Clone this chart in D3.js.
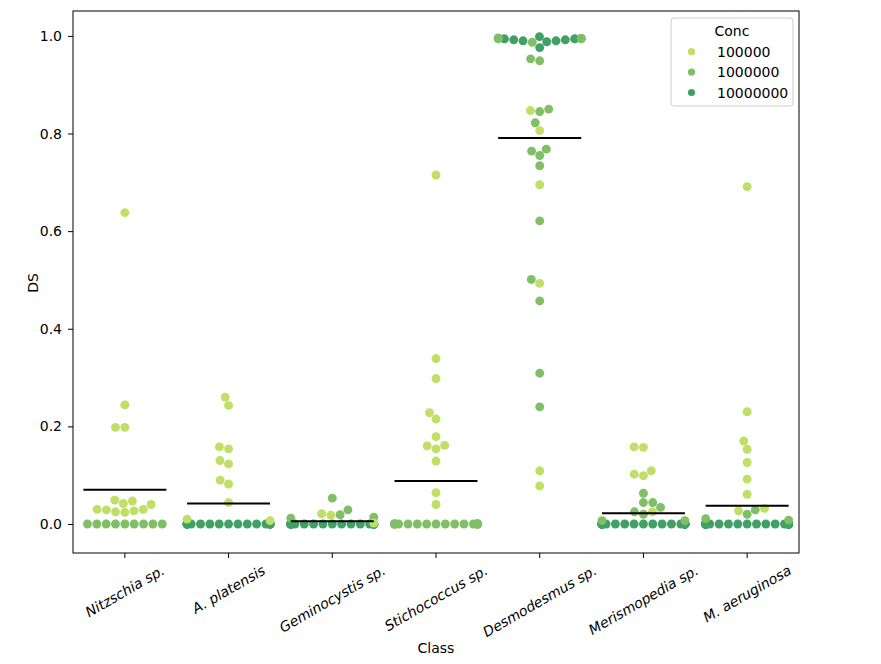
<!DOCTYPE html>
<html><head><meta charset="utf-8">
<script src="https://cdn.jsdelivr.net/npm/d3@7"></script>
<style>body{margin:0;background:#fff} text{font-family:"DejaVu Sans",sans-serif}</style>
</head><body><svg id="chart" width="881" height="664"></svg>
<script>
const categories = ["Nitzschia sp.", "A. platensis", "Geminocystis sp.", "Stichococcus sp.", "Desmodesmus sp.", "Merismopedia sp.", "M. aeruginosa"];
const concLevels = ["100000", "1000000", "10000000"];
const concColors = ["#bfdf66", "#80bf66", "#40a066"];

// DS values per category, for Conc = 100000
const ds_100000 = [
  [0.638, 0.244, 0.198, 0.198, 0.049, 0.047, 0.042, 0.040, 0.030, 0.030, 0.029, 0.027, 0.025, 0.024],
  [0.260, 0.243, 0.158, 0.154, 0.130, 0.123, 0.090, 0.082, 0.044, 0.007, 0.010],
  [0.021, 0.018, 0.002],
  [0.715, 0.339, 0.298, 0.228, 0.215, 0.179, 0.161, 0.160, 0.154, 0.129, 0.064, 0.040],
  [0.847, 0.806, 0.695, 0.493, 0.109, 0.078],
  [0.158, 0.157, 0.109, 0.102, 0.099, 0.025],
  [0.691, 0.230, 0.170, 0.153, 0.126, 0.092, 0.061, 0.032, 0.027]
];
// Conc = 1000000
const ds_1000000 = [
  [0, 0, 0, 0, 0, 0, 0, 0, 0],
  [],
  [0.053, 0.019, 0.029, 0.012, 0.014],
  [0, 0, 0, 0, 0, 0, 0, 0, 0, 0, 0, 0, 0, 0, 0, 0, 0, 0],
  [0.994, 0.987, 0.994, 0.953, 0.949, 0.850, 0.845, 0.822, 0.768, 0.764, 0.755, 0.734, 0.621, 0.501, 0.457, 0.309, 0.240, 0.995, 0.996],
  [0.063, 0.044, 0.044, 0.034, 0.020, 0.025, 0.007, 0.007],
  [0.029, 0.020, 0.008, 0.011]
];
// Conc = 10000000
const ds_10000000 = [
  [],
  [0, 0, 0, 0, 0, 0, 0, 0, 0, 0, 0, 0, 0, 0, 0, 0, 0, 0, 0, 0],
  [0, 0, 0, 0, 0, 0, 0, 0, 0, 0, 0, 0, 0, 0, 0, 0, 0, 0, 0, 0, 0, 0, 0, 0],
  [],
  [0.9986, 0.976, 0.988, 0.990, 0.992, 0.994, 0.990, 0.992, 0.994, 0.995, 0.995],
  [0, 0, 0, 0, 0, 0, 0, 0, 0, 0, 0, 0, 0, 0, 0, 0, 0, 0, 0, 0, 0, 0, 0, 0, 0, 0, 0],
  [0, 0, 0, 0, 0, 0, 0, 0, 0, 0, 0, 0, 0, 0, 0, 0, 0, 0, 0, 0, 0, 0, 0, 0, 0, 0, 0, 0, 0, 0, 0]
];
// mean DS per category (black lines)
const meanDS = [0.070, 0.042, 0.0055, 0.088, 0.791, 0.022, 0.0375];
const yTickValues = [0.0, 0.2, 0.4, 0.6, 0.8, 1.0];

const FS = "14px";
const svg = d3.select("#chart");
const plot = {left: 73, right: 799, top: 11, bottom: 553};
const x = d3.scaleBand().domain(categories).range([plot.left, plot.right]).padding(0);
const y = d3.scaleLinear().domain([-0.0594, 1.051]).range([plot.bottom, plot.top]);
const color = d3.scaleOrdinal().domain(concLevels).range(concColors);
const R = 4.45;
const halfW = x.bandwidth() * 0.4;

function beeswarm(points, cx) {
  const pts = points.map((p, i) => Object.assign({}, p, {i: i, py: y(p.v)}));
  const sorted = pts.slice().sort((a, b) => (b.py - a.py) || (a.i - b.i));
  const placed = [];
  sorted.forEach((p, k) => {
    if (k === 0) { p.px = cx; placed.push(p); return; }
    const nb = [];
    for (let j = placed.length - 1; j >= 0; j--) {
      const q = placed[j];
      if ((q.py - p.py) < 2 * R) nb.push(q); else break;
    }
    if (!nb.length) { p.px = cx; placed.push(p); return; }
    const cands = [cx];
    let leftFirst = true;
    nb.forEach(q => {
      const dy = q.py - p.py;
      const dx = Math.sqrt(Math.max(4 * R * R - dy * dy, 0)) * 1.05;
      if (leftFirst) cands.push(q.px - dx, q.px + dx); else cands.push(q.px + dx, q.px - dx);
      leftFirst = !leftFirst;
    });
    const order = cands.map((c, i) => ({c, i}))
      .sort((a, b) => (Math.abs(a.c - cx) - Math.abs(b.c - cx)) || (a.i - b.i));
    let chosen = order[order.length - 1].c;
    for (const o of order) {
      if (nb.every(q => (q.px - o.c) ** 2 + (q.py - p.py) ** 2 >= 4 * R * R - 1e-6)) { chosen = o.c; break; }
    }
    p.px = chosen;
    placed.push(p);
  });
  pts.forEach(p => { p.px = Math.max(cx - halfW, Math.min(cx + halfW, p.px)); });
  return pts;
}

const g = svg.append("g");

// points
categories.forEach((cat, ci) => {
  const pts = [];
  ds_10000000[ci].forEach(v => pts.push({v, conc: concLevels[2]}));
  ds_1000000[ci].forEach(v => pts.push({v, conc: concLevels[1]}));
  ds_100000[ci].forEach(v => pts.push({v, conc: concLevels[0]}));
  const cx = x(cat) + x.bandwidth() / 2;
  const placed = beeswarm(pts, cx);
  g.append("g").selectAll("circle").data(placed).join("circle")
    .attr("cx", d => d.px).attr("cy", d => d.py).attr("r", R)
    .attr("fill", d => color(d.conc));
});

// mean lines
g.append("g").selectAll("line").data(categories).join("line")
  .attr("x1", d => x(d) + x.bandwidth() / 2 - halfW)
  .attr("x2", d => x(d) + x.bandwidth() / 2 + halfW)
  .attr("y1", (d, i) => y(meanDS[i])).attr("y2", (d, i) => y(meanDS[i]))
  .attr("stroke", "#000").attr("stroke-width", 2);

// axes
const yAxis = d3.axisLeft(y).tickValues(yTickValues).tickFormat(d3.format(".1f")).tickSize(5).tickPadding(6);
const ya = svg.append("g").attr("transform", `translate(${plot.left},0)`).call(yAxis);
ya.select(".domain").remove();
ya.selectAll("text").attr("font-size", FS).attr("fill", "#000").style("font-family", "DejaVu Sans");
ya.selectAll("line").attr("stroke", "#000");

const xAxis = d3.axisBottom(x).tickSize(5).tickPadding(4);
const xa = svg.append("g").attr("transform", `translate(0,${plot.bottom})`).call(xAxis);
xa.select(".domain").remove();
xa.selectAll("line").attr("stroke", "#000");
xa.selectAll("text").each(function() {
  const t = d3.select(this);
  t.attr("font-size", FS).attr("fill", "#000").style("font-family", "DejaVu Sans").style("font-style", "italic")
   .attr("dy", null).attr("y", 0).attr("dominant-baseline", "central").attr("text-anchor", "middle");
  const w = this.getComputedTextLength();
  const h = 16;
  const a = Math.PI / 6;
  const bh = w * Math.sin(a) + h * Math.cos(a);
  const cy = 9 + bh / 2;
  t.attr("transform", `translate(0,${cy}) rotate(-30)`);
});

// frame
svg.append("rect").attr("x", plot.left).attr("y", plot.top)
  .attr("width", plot.right - plot.left).attr("height", plot.bottom - plot.top)
  .attr("fill", "none").attr("stroke", "#000").attr("stroke-width", 1);

// axis labels
svg.append("text").attr("x", (plot.left + plot.right) / 2).attr("y", 648)
  .attr("text-anchor", "middle").attr("dominant-baseline", "central").attr("font-size", FS).text("Class");
svg.append("text").attr("transform", "translate(33,283) rotate(-90)")
  .attr("text-anchor", "middle").attr("dominant-baseline", "central").attr("font-size", FS).text("DS");

// legend
const lg = svg.append("g");
lg.append("rect").attr("x", 671).attr("y", 18).attr("width", 122).attr("height", 88).attr("rx", 3)
  .attr("fill", "#fff").attr("fill-opacity", 0.8).attr("stroke", "#cccccc");
lg.append("text").attr("x", 732).attr("y", 31).attr("text-anchor", "middle")
  .attr("dominant-baseline", "central").attr("font-size", FS).text("Conc");
concLevels.forEach((c, i) => {
  const yy = 51.7 + i * 20.4;
  lg.append("circle").attr("cx", 691.5).attr("cy", yy).attr("r", 3.6).attr("fill", color(c));
  lg.append("text").attr("x", 717).attr("y", yy).attr("dominant-baseline", "central")
    .attr("font-size", FS).text(c);
});
</script></body></html>
